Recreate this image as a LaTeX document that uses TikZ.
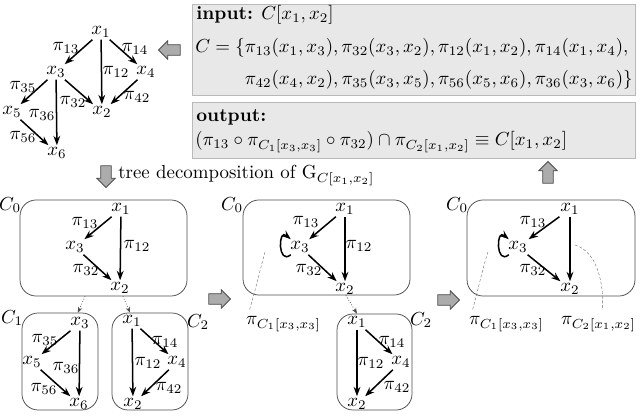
\documentclass[tikz,border=0pt]{standalone}
\usepackage{amsmath, amssymb}
\usepackage{tikz}
\usetikzlibrary{arrows.meta, positioning, calc, shapes, shadows}

\tikzset{
  var/.style={inner sep=1pt},
  lab/.style={inner sep=0.5pt},
  edge/.style={thick, -{Stealth[length=5pt, width=3.6pt]}},
  cbox/.style={draw=black!70, rounded corners=8.5pt, thin, inner sep=0pt},
  iobox/.style={draw=gray!55, fill=gray!18, inner sep=0pt,
    drop shadow={shadow xshift=0.6pt, shadow yshift=-0.6pt, fill=gray!55}},
  bigarrow/.style={single arrow, draw=gray!60!black, fill=gray!65, inner sep=2.6pt,
    single arrow head extend=2.1pt, minimum height=11.5pt},
  link/.style={densely dotted, thin, black!70, -{Stealth[length=3pt, width=2.4pt]}},
  hint/.style={very thin, black!60, dash pattern=on 1.5pt off 1pt},
  txt/.style={anchor=base west, inner sep=0pt},
}

\begin{document}
\begin{tikzpicture}[x=0.53pt, y=-0.53pt]
    \useasboundingbox (0,0) rectangle (640,417);

    % 输入与输出
    \node[iobox, minimum width=234.8pt, minimum height=48.2pt] (inbox) at (413.5,49.5) {};
    \node[iobox, minimum width=234.8pt, minimum height=29.7pt] (outbox) at (413.5,130) {};
    \node[txt] (in1) at (196,20) {\textbf{input:} $C[x_1,x_2]$};
    \node[txt] (in2) at (195,53) {$C=\{\pi_{13}(x_1,x_3),\pi_{32}(x_3,x_2),\pi_{12}(x_1,x_2),\pi_{14}(x_1,x_4),$};
    \node[txt, anchor=base east] (in3) at (633,85) {$\pi_{42}(x_4,x_2),\pi_{35}(x_3,x_5),\pi_{56}(x_5,x_6),\pi_{36}(x_3,x_6)\}$};
    \node[txt] (out1) at (196,122) {\textbf{output:}};
    \node[txt] (out2) at (195,146) {$(\pi_{13}\circ\pi_{C_1[x_3,x_3]}\circ\pi_{32})\cap\pi_{C_2[x_1,x_2]}\equiv C[x_1,x_2]$};

    % 约束图
    \node[var] (tx1) at (101,32) {$x_1$};
    \node[var] (tx3) at (56,72) {$x_3$};
    \node[var] (tx4) at (146,72) {$x_4$};
    \node[var] (tx2) at (102,112) {$x_2$};
    \node[var] (tx5) at (12,112) {$x_5$};
    \node[var] (tx6) at (57,153) {$x_6$};
    \node[lab] (tp13) at (66,48) {$\pi_{13}$};
    \node[lab] (tp14) at (135,49) {$\pi_{14}$};
    \node[lab] (tp12) at (116,72) {$\pi_{12}$};
    \node[lab] (tp35) at (23,87) {$\pi_{35}$};
    \node[lab] (tp32) at (73,102) {$\pi_{32}$};
    \node[lab] (tp36) at (42,115) {$\pi_{36}$};
    \node[lab] (tp42) at (137,97) {$\pi_{42}$};
    \node[lab] (tp56) at (23,137) {$\pi_{56}$};
    \draw[edge] (tx1) -- (tx3);
    \draw[edge] (tx1) -- (tx2);
    \draw[edge] (tx1) -- (tx4);
    \draw[edge] (tx3) -- (tx5);
    \draw[edge] (tx3) -- (tx2);
    \draw[edge] (tx3) -- (tx6);
    \draw[edge] (tx4) -- (tx2);
    \draw[edge] (tx5) -- (tx6);

    % 粗箭头
    \node[bigarrow, shape border rotate=180] (ar1) at (172,50) {};
    \node[bigarrow, shape border rotate=270] (ar2) at (106,174) {};
    \node[bigarrow, shape border rotate=90] (ar3) at (548,175) {};
    \node[bigarrow] (ar4) at (217,299) {};
    \node[bigarrow] (ar5) at (446,300) {};
    \node[txt] (tdec) at (118,179) {tree decomposition of $\mathrm{G}_{C[x_1,x_2]}$};

    % 树分解
    \node[cbox, minimum width=88.5pt, minimum height=50.9pt] (c0a) at (103.5,248) {};
    \node[cbox, minimum width=40.3pt, minimum height=51.4pt] (c1a) at (60,361.5) {};
    \node[cbox, minimum width=40.3pt, minimum height=51.4pt] (c2a) at (150,361.5) {};
    \node (lc0a) at (10,205) {$C_0$};
    \node (lc1a) at (12,318) {$C_1$};
    \node (lc2a) at (198,322) {$C_2$};
    \draw[link] ([xshift=-9.8pt]c0a.south) -- ([xshift=9.5pt]c1a.north);
    \draw[link] ([xshift=10.3pt]c0a.south) -- ([xshift=-10.6pt]c2a.north);

    \node[var] (ax1) at (121,209) {$x_1$};
    \node[var] (ax3) at (75,247) {$x_3$};
    \node[var] (ax2) at (120,288) {$x_2$};
    \node[lab] (ap13) at (85,223) {$\pi_{13}$};
    \node[lab] (ap12) at (137,246) {$\pi_{12}$};
    \node[lab] (ap32) at (86,270) {$\pi_{32}$};
    \draw[edge] (ax1) -- (ax3);
    \draw[edge] (ax1) -- (ax2);
    \draw[edge] (ax3) -- (ax2);

    \node[var] (bx3) at (80,323) {$x_3$};
    \node[var] (bx5) at (32,362) {$x_5$};
    \node[var] (bx6) at (79,404) {$x_6$};
    \node[lab] (bp35) at (45,340) {$\pi_{35}$};
    \node[lab] (bp36) at (66,368) {$\pi_{36}$};
    \node[lab] (bp56) at (44,389) {$\pi_{56}$};
    \draw[edge] (bx3) -- (bx5);
    \draw[edge] (bx3) -- (bx6);
    \draw[edge] (bx5) -- (bx6);

    \node[var] (cx1) at (132,321) {$x_1$};
    \node[var] (cx4) at (177,362) {$x_4$};
    \node[var] (cx2) at (133,404) {$x_2$};
    \node[lab] (cp14) at (165,342) {$\pi_{14}$};
    \node[lab] (cp12) at (148,363) {$\pi_{12}$};
    \node[lab] (cp42) at (169,388) {$\pi_{42}$};
    \draw[edge] (cx1) -- (cx2);
    \draw[edge] (cx1) -- (cx4);
    \draw[edge] (cx4) -- (cx2);

    % 第一步
    \node[cbox, minimum width=88.5pt, minimum height=50.4pt] (c0b) at (326.5,247.5) {};
    \node[cbox, minimum width=39.75pt, minimum height=50.9pt] (c2b) at (374.5,362) {};
    \node (lc0b) at (232,205) {$C_0$};
    \node (lc2b) at (421,320) {$C_2$};
    \draw[link] ([xshift=10.3pt]c0b.south) -- ([xshift=-9.3pt]c2b.north);

    \node[var] (dx1) at (345,209) {$x_1$};
    \node[var] (dx3) at (300,247) {$x_3$};
    \node[var] (dx2) at (345,289) {$x_2$};
    \node[lab] (dp13) at (306,222) {$\pi_{13}$};
    \node[lab] (dp12) at (359,246) {$\pi_{12}$};
    \node[lab] (dp32) at (309,270) {$\pi_{32}$};
    \draw[edge] (dx1) -- (dx3);
    \draw[edge] (dx1) -- (dx2);
    \draw[edge] (dx3) -- (dx2);
    \draw[edge] (dx3) to[out=220, in=140, distance=9pt] (dx3);

    \node[var] (ex1) at (357,322) {$x_1$};
    \node[var] (ex4) at (401,362) {$x_4$};
    \node[var] (ex2) at (357,404) {$x_2$};
    \node[lab] (ep14) at (392,342) {$\pi_{14}$};
    \node[lab] (ep12) at (371,363) {$\pi_{12}$};
    \node[lab] (ep42) at (397,387) {$\pi_{42}$};
    \draw[edge] (ex1) -- (ex2);
    \draw[edge] (ex1) -- (ex4);
    \draw[edge] (ex4) -- (ex2);

    \node (dlc1) at (283.5,324) {$\pi_{C_1[x_3,x_3]}$};
    \coordinate (dsa) at (265,252);
    \draw[hint] (dsa) .. controls (260,270) and (255,292) .. ([xshift=5.3pt]dlc1.north west);

    % 第二步
    \node[cbox, minimum width=89pt, minimum height=50.9pt] (c0c) at (551,248) {};
    \node (lc0c) at (457,205) {$C_0$};

    \node[var] (fx1) at (570,209) {$x_1$};
    \node[var] (fx3) at (518,247) {$x_3$};
    \node[var] (fx2) at (570,289) {$x_2$};
    \node[lab] (fp13) at (533,222) {$\pi_{13}$};
    \node[lab] (fp32) at (533,270) {$\pi_{32}$};
    \draw[edge] (fx1) -- (fx3);
    \draw[edge] (fx1) -- (fx2);
    \draw[edge] (fx3) -- (fx2);
    \draw[edge] (fx3) to[out=220, in=140, distance=9pt] (fx3);

    \node (flc1) at (506.5,324) {$\pi_{C_1[x_3,x_3]}$};
    \node (flc2) at (598.5,324) {$\pi_{C_2[x_1,x_2]}$};
    \coordinate (fsa) at (488,252);
    \coordinate (fsb) at (575,245);
    \draw[hint] (fsa) .. controls (482,270) and (477,295) .. ([xshift=5.3pt]flc1.north west);
    \draw[hint] (fsb) .. controls (598,252) and (604,285) .. ([xshift=2.1pt]flc2.north);
\end{tikzpicture}
\end{document}
